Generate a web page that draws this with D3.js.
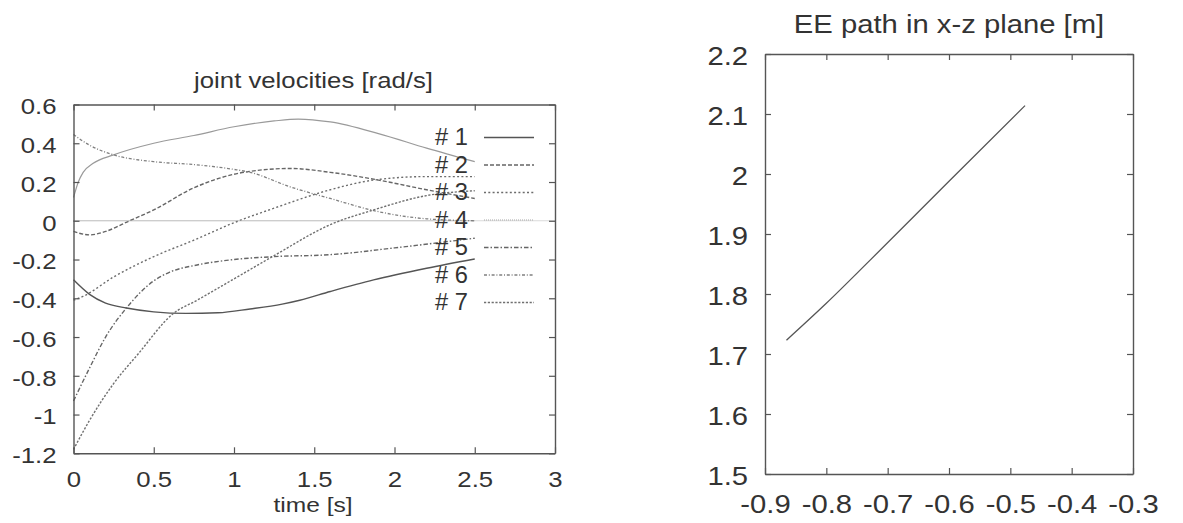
<!DOCTYPE html>
<html>
<head>
<meta charset="utf-8">
<script src="https://cdn.jsdelivr.net/npm/d3@7"></script>
<style>
  body { margin: 0; background: #fff; }
  svg { display: block; font-family: "Liberation Sans", Arial, sans-serif; }
</style>
</head>
<body>
<div id="chart"></div>
<script>
// joint velocities [rad/s], pairs of [time, value]
const joint1 = [[0,-0.305],[0.1,-0.38],[0.2,-0.425],[0.33,-0.45],[0.5,-0.47],[0.7,-0.478],[0.9,-0.475],[1.1,-0.455],[1.3,-0.43],[1.41,-0.41],[1.6,-0.365],[1.87,-0.305],[2.2,-0.245],[2.5,-0.197]];
const joint2 = [[0,-0.055],[0.1,-0.073],[0.2,-0.055],[0.35,0.0],[0.5,0.056],[0.75,0.17],[1.0,0.24],[1.1,0.255],[1.35,0.27],[1.6,0.25],[1.9,0.21],[2.2,0.16],[2.5,0.115]];
const joint3 = [[0,-0.41],[0.06,-0.39],[0.25,-0.29],[0.5,-0.185],[0.75,-0.1],[1.0,-0.01],[1.25,0.065],[1.6,0.16],[1.87,0.21],[2.2,0.228],[2.5,0.228]];
const joint4 = [[0,0],[2.5,0]];
const joint5 = [[0,-0.93],[0.1,-0.76],[0.2,-0.6],[0.33,-0.45],[0.5,-0.31],[0.6,-0.265],[0.77,-0.228],[1.0,-0.2],[1.25,-0.185],[1.6,-0.175],[2.0,-0.14],[2.5,-0.09]];
const joint6 = [[0,0.445],[0.1,0.39],[0.25,0.34],[0.5,0.305],[0.75,0.29],[1.0,0.265],[1.1,0.25],[1.35,0.175],[1.6,0.115],[1.9,0.047],[2.2,0.01],[2.5,0.0]];
const joint7 = [[0,-1.18],[0.1,-1.03],[0.25,-0.84],[0.4,-0.69],[0.62,-0.48],[0.77,-0.41],[1.0,-0.3],[1.25,-0.18],[1.6,-0.02],[1.87,0.056],[2.2,0.13],[2.5,0.155]];
const extraCurve = [[0,0.12],[0.03,0.2],[0.06,0.25],[0.12,0.295],[0.25,0.34],[0.5,0.40],[0.75,0.44],[1.0,0.485],[1.25,0.515],[1.4,0.525],[1.6,0.51],[1.9,0.45],[2.2,0.375],[2.5,0.305]];
const jointNames = ["# 1", "# 2", "# 3", "# 4", "# 5", "# 6", "# 7"];

// end-effector path in x-z plane [m]
const pathX = [-0.865, -0.8, -0.729, -0.6, -0.476];
const pathZ = [1.723, 1.7845, 1.856, 1.988, 2.114];

const timeTicks = [0, 0.5, 1, 1.5, 2, 2.5, 3];
const velTicks = [-1.2, -1, -0.8, -0.6, -0.4, -0.2, 0, 0.2, 0.4, 0.6];
const xTicks = [-0.9, -0.8, -0.7, -0.6, -0.5, -0.4, -0.3];
const zTicks = [1.5, 1.6, 1.7, 1.8, 1.9, 2, 2.1, 2.2];

const width = 1183;
const height = 523;
const stretch = 1.17;
const ink = "#333";

const svg = d3.select("#chart").append("svg")
  .attr("width", width)
  .attr("height", height);

function frame(g, x, y, xT, yT, fontSize, padX, padY) {
  const fix = (sel) => {
    sel.select(".domain").attr("stroke", "#555").attr("stroke-width", 1.4);
    sel.selectAll(".tick line").attr("stroke", "#555").attr("stroke-width", 1.2);
    sel.attr("font-size", fontSize).attr("font-family", null);
    sel.selectAll("text").attr("fill", ink).attr("transform", `scale(${stretch},1)`);
  };
  g.append("g").attr("transform", `translate(0,${y.range()[0]})`)
    .call(d3.axisBottom(x).tickValues(xT).tickSizeInner(-6).tickSizeOuter(0)
      .tickPadding(padX).tickFormat((d) => String(d)))
    .call(fix);
  g.append("g").attr("transform", `translate(0,${y.range()[1]})`)
    .call(d3.axisTop(x).tickValues(xT).tickSizeInner(-6).tickSizeOuter(0).tickFormat(""))
    .call(fix);
  g.append("g").attr("transform", `translate(${x.range()[0]},0)`)
    .call(d3.axisLeft(y).tickValues(yT).tickSizeInner(-6).tickSizeOuter(0)
      .tickPadding(padY).tickFormat((d) => String(d)))
    .call(fix)
    .selectAll("text").attr("dy", "0.42em");
  g.append("g").attr("transform", `translate(${x.range()[1]},0)`)
    .call(d3.axisRight(y).tickValues(yT).tickSizeInner(-6).tickSizeOuter(0).tickFormat(""))
    .call(fix);
}

function label(g, txt, x, y, size, anchor, sx) {
  g.append("text")
    .attr("transform", `translate(${x},${y}) scale(${sx || stretch},1)`)
    .attr("text-anchor", anchor || "middle")
    .attr("font-size", size)
    .attr("fill", ink)
    .text(txt);
}

// ---- left panel: joint velocities
const xL = d3.scaleLinear().domain([0, 3]).range([73.5, 555]);
const yL = d3.scaleLinear().domain([-1.2, 0.6]).range([453.3, 104.5]);
const left = svg.append("g");

const lineL = d3.line()
  .x((d) => xL(d[0]))
  .y((d) => yL(d[1]))
  .curve(d3.curveMonotoneX);

const joints = [joint1, joint2, joint3, joint4, joint5, joint6, joint7];
const dashes = ["", "4,2", "2,2.3", "1,1", "4.5,2,1.5,2", "3,1.8,1,1.8", "2.2,1.6"];
const colors = ["#555", "#666", "#6c6c6c", "#aaa", "#666", "#808080", "#707070"];
const widths = [1.4, 1.4, 1.4, 1.2, 1.4, 1.3, 1.4];

// zero axis across the whole plot
left.append("line")
  .attr("x1", xL(0)).attr("x2", xL(3))
  .attr("y1", yL(0)).attr("y2", yL(0))
  .attr("stroke", "#b5b5b5").attr("stroke-width", 1.2)
  .attr("stroke-dasharray", "1,1");

left.append("path")
  .attr("d", lineL(extraCurve))
  .attr("fill", "none")
  .attr("stroke", "#9a9a9a")
  .attr("stroke-width", 1.2);

left.selectAll("path.joint")
  .data(joints)
  .join("path")
  .attr("class", "joint")
  .attr("d", (d) => lineL(d))
  .attr("fill", "none")
  .attr("stroke", (d, i) => colors[i])
  .attr("stroke-width", (d, i) => widths[i])
  .attr("stroke-dasharray", (d, i) => dashes[i] || null);

frame(left, xL, yL, timeTicks, velTicks, 22, 18, 14.5);

// legend
const legend = left.append("g");
jointNames.forEach((name, i) => {
  const by = 145 + i * 27.5;
  label(legend, name, 468, by, 23, "end", 1.03);
  legend.append("line")
    .attr("x1", 484).attr("x2", 534)
    .attr("y1", by - 7.5).attr("y2", by - 7.5)
    .attr("stroke", colors[i])
    .attr("stroke-width", widths[i])
    .attr("stroke-dasharray", dashes[i] || null);
});

label(left, "joint velocities [rad/s]", 313.5, 88, 22);
label(left, "time [s]", 313, 512, 21);

// ---- right panel: EE path
const xR = d3.scaleLinear().domain([-0.9, -0.3]).range([765, 1133]);
const yR = d3.scaleLinear().domain([1.5, 2.2]).range([474, 54]);
const right = svg.append("g");

right.append("path")
  .datum(d3.zip(pathX, pathZ))
  .attr("d", d3.line().x((d) => xR(d[0])).y((d) => yR(d[1])).curve(d3.curveMonotoneX))
  .attr("fill", "none")
  .attr("stroke", "#555")
  .attr("stroke-width", 1.3);

frame(right, xR, yR, xTicks, zTicks, 25, 21, 14.5);

label(right, "EE path in x-z plane [m]", 949, 33, 25);
</script>
</body>
</html>
